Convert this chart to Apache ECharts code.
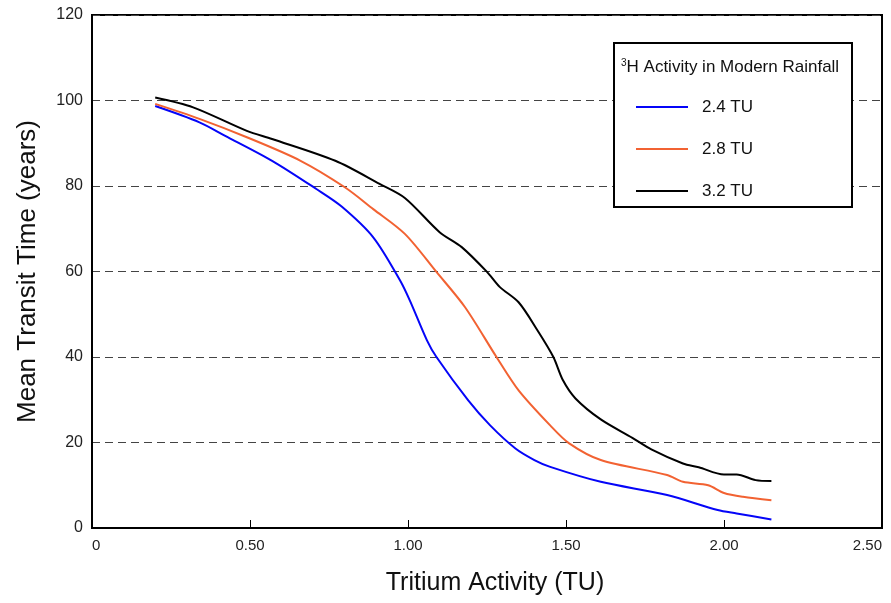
<!DOCTYPE html>
<html>
<head>
<meta charset="utf-8">
<script src="https://cdn.jsdelivr.net/npm/echarts@6/dist/echarts.min.js"></script>
<style>
html,body{margin:0;padding:0;background:#fff;}
#chart{width:891px;height:603px;}
</style>
</head>
<body>
<div id="chart"></div>
<script>
// Data
var seriesNames = ['2.4 TU', '2.8 TU', '3.2 TU'];

var blueX = [0.20, 0.34, 0.42, 0.57, 0.71, 0.79, 0.89, 0.975, 1.006, 1.06, 1.09, 1.19, 1.26, 1.34, 1.40, 1.45, 1.61, 1.82, 1.98, 2.04, 2.15];
var blueY = [98.7, 94.9, 91.8, 85.9, 79.3, 75.2, 68.0, 57.9, 53.2, 43.9, 40.0, 29.9, 24.0, 18.6, 15.9, 14.3, 10.8, 7.7, 4.2, 3.4, 2.0];

var orangeX = [0.20, 0.34, 0.49, 0.66, 0.80, 0.89, 0.99, 1.09, 1.18, 1.28, 1.35, 1.45, 1.51, 1.61, 1.82, 1.87, 1.95, 2.00, 2.06, 2.15];
var orangeY = [99.2, 95.7, 91.4, 85.9, 79.7, 74.6, 68.8, 59.9, 51.7, 40.0, 32.2, 24.0, 19.8, 15.9, 12.4, 10.8, 10.0, 8.2, 7.3, 6.5];

var blackX = [0.20, 0.32, 0.49, 0.57, 0.77, 0.91, 0.99, 1.10, 1.17, 1.25, 1.29, 1.35, 1.41, 1.46, 1.49, 1.53, 1.61, 1.71, 1.77, 1.87, 1.92, 2.00, 2.04, 2.10, 2.15];
var blackY = [100.7, 98.4, 92.9, 91.0, 85.9, 80.5, 77.2, 69.2, 65.7, 59.9, 56.4, 52.8, 46.2, 40.0, 34.6, 30.3, 25.4, 21.1, 18.4, 15.1, 14.2, 12.5, 12.5, 11.2, 11.0];

var xTicks = [0, 0.5, 1.0, 1.5, 2.0, 2.5];
var yTicks = [0, 20, 40, 60, 80, 100, 120];

var legendTitle = 'H Activity in Modern Rainfall';
var xName = 'Tritium Activity (TU)';
var yName = 'Mean Transit Time (years)';

function zip(xs, ys) { return xs.map(function (x, i) { return [x, ys[i]]; }); }

var FONT = '"Liberation Sans", Arial, Helvetica, sans-serif';
var colors = ['#0505f8', '#f26232', '#000000'];

var chart = echarts.init(document.getElementById('chart'), null, { renderer: 'canvas' });

function mkSeries(name, xs, ys, color) {
  return {
    name: name, type: 'line', data: zip(xs, ys),
    symbol: 'none', showSymbol: false, smooth: 0.3,
    lineStyle: { color: color, width: 2 },
    itemStyle: { color: color },
    z: 3
  };
}

chart.setOption({
  animation: false,
  backgroundColor: '#fff',
  textStyle: { fontFamily: FONT },
  grid: { left: 92, right: 9, top: 15, bottom: 75, show: true, borderColor: '#000', borderWidth: 2, containLabel: false },
  xAxis: {
    type: 'value', min: xTicks[0], max: xTicks[xTicks.length - 1], interval: 0.5,
    name: xName, nameLocation: 'middle', nameGap: 43,
    nameTextStyle: { fontSize: 25, color: '#111', fontFamily: FONT, padding: [0, 0, 0, 16] },
    axisLine: { show: true, lineStyle: { color: '#000', width: 2 } },
    axisTick: { show: true, inside: true, length: 8, lineStyle: { color: '#000', width: 1 } },
    axisLabel: {
      fontSize: 15, color: '#222', margin: 10, fontFamily: FONT,
      alignMinLabel: 'left', alignMaxLabel: 'right',
      formatter: function (v) { return v === 0 ? '0' : v.toFixed(2); }
    },
    splitLine: { show: false }
  },
  yAxis: {
    type: 'value', min: yTicks[0], max: yTicks[yTicks.length - 1], interval: 20,
    name: yName, nameLocation: 'middle', nameGap: 51, nameRotate: 90,
    nameTextStyle: { fontSize: 26, color: '#111', fontFamily: FONT },
    axisLine: { show: true, lineStyle: { color: '#000', width: 2 } },
    axisTick: { show: false },
    axisLabel: { fontSize: 16, color: '#222', margin: 9, fontFamily: FONT },
    splitLine: { show: true, lineStyle: { color: '#444', width: 1, type: [8, 5] } }
  },
  legend: {
    data: seriesNames.map(function (n) { return { name: n, icon: 'rect' }; }),
    orient: 'vertical', left: 631, top: 93, z: 20,
    itemWidth: 52, itemHeight: 2, itemGap: 24, selectedMode: false,
    itemStyle: { borderWidth: 0 },
    textStyle: { fontSize: 17, color: '#111', fontFamily: FONT, lineHeight: 18, padding: [0, 0, 0, 9] }
  },
  graphic: [
    { type: 'rect', z: 10, shape: { x: 614, y: 43, width: 238, height: 164 },
      style: { fill: '#fff', stroke: '#000', lineWidth: 2 } },
    { type: 'text', left: 621, top: 58, z: 21,
      style: {
        text: '{sup|3}{n|' + legendTitle + '}',
        rich: {
          sup: { fontSize: 10, fontFamily: FONT, fill: '#111', verticalAlign: 'top', lineHeight: 18 },
          n: { fontSize: 17, fontFamily: FONT, fill: '#111', lineHeight: 18 }
        }
      } }
  ],
  series: [
    mkSeries(seriesNames[0], blueX, blueY, colors[0]),
    mkSeries(seriesNames[1], orangeX, orangeY, colors[1]),
    mkSeries(seriesNames[2], blackX, blackY, colors[2])
  ]
});
</script>
</body>
</html>
